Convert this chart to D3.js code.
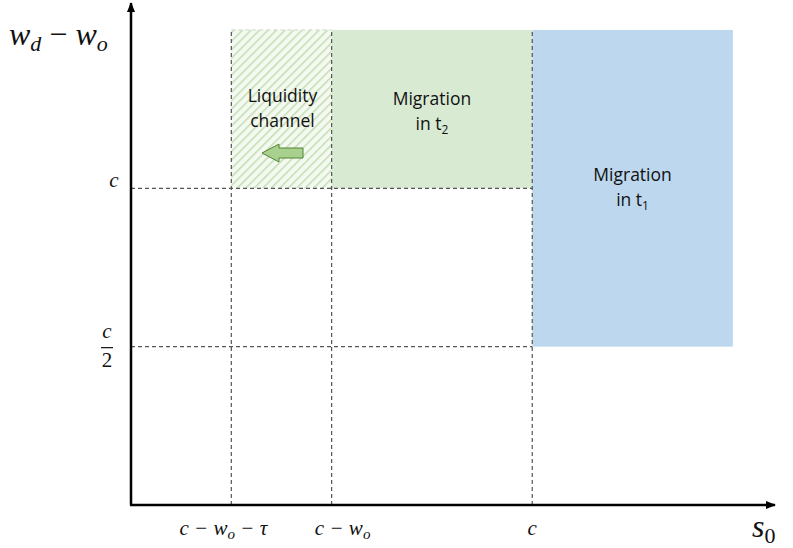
<!DOCTYPE html>
<html><head><meta charset="utf-8">
<script src="https://cdn.jsdelivr.net/npm/d3@7"></script>
<style>body{margin:0;background:#fff}svg{display:block}</style>
</head><body>
<script>
// Abstract positions (x in units of the first gap, y in units of c/2)
const xMarks = [
  {key: "cwt", value: 1, parts: [["c − ", ""], ["w", ""], ["o", "sub"], [" − τ", ""]]},
  {key: "cw", value: 2, parts: [["c − ", ""], ["w", ""], ["o", "sub"]]},
  {key: "c", value: 4, parts: [["c", ""]]}
];
const yMarks = [
  {key: "c", value: 2},
  {key: "c2", value: 1}
];
const xMax = 6.42, yMax = 3.17, regionRight = 6, regionTop = 3;
const regions = [
  {name: "liquidity", x0: 1, x1: 2, y0: 2, y1: 3, fill: "url(#hatch)", lines: ["Liquidity", "channel"]},
  {name: "t2", x0: 2, x1: 4, y0: 2, y1: 3, fill: "#d9ead3", lines: ["Migration", "in t|2"]},
  {name: "t1", x0: 4, x1: 6, y0: 1, y1: 3, fill: "#bdd7ee", lines: ["Migration", "in t|1"]}
];

const W = 793, H = 548;
const svg = d3.select("body").append("svg").attr("width", W).attr("height", H);
const x = d3.scaleLinear().domain([0, xMax]).range([131, 775]);
const y = d3.scaleLinear().domain([0, yMax]).range([505, 3]);

const defs = svg.append("defs");
const pat = defs.append("pattern").attr("id", "hatch").attr("patternUnits", "userSpaceOnUse")
  .attr("width", 6).attr("height", 6).attr("patternTransform", "rotate(45)");
pat.append("rect").attr("width", 6).attr("height", 6).attr("fill", "#f4f9f1");
pat.append("line").attr("x1", 0).attr("y1", 0).attr("x2", 0).attr("y2", 6)
  .attr("stroke", "#c3deb1").attr("stroke-width", 3);
defs.append("marker").attr("id", "ah").attr("viewBox", "0 0 10 10").attr("refX", 9).attr("refY", 5)
  .attr("markerWidth", 10).attr("markerHeight", 10).attr("markerUnits", "userSpaceOnUse").attr("orient", "auto")
  .append("path").attr("d", "M0,1 L10,5 L0,9 Z").attr("fill", "#000");

// regions
svg.selectAll("rect.region").data(regions).enter().append("rect").attr("class", "region")
  .attr("x", d => x(d.x0)).attr("y", d => y(d.y1))
  .attr("width", d => x(d.x1) - x(d.x0)).attr("height", d => y(d.y0) - y(d.y1))
  .attr("fill", d => d.fill);

// faint top border on hatched
svg.append("line").attr("x1", x(1)).attr("x2", x(2)).attr("y1", y(regionTop)).attr("y2", y(regionTop))
  .attr("stroke", "#cfd8ca").attr("stroke-dasharray", "4,3").attr("stroke-width", 1);

const dash = {stroke: "#555", "stroke-width": 1.2, "stroke-dasharray": "4,3"};
function dline(x1, y1, x2, y2) {
  const l = svg.append("line").attr("x1", x1).attr("y1", y1).attr("x2", x2).attr("y2", y2);
  Object.entries(dash).forEach(([k, v]) => l.attr(k, v));
}
// vertical dashed lines
xMarks.forEach(m => dline(x(m.value), y(0), x(m.value), y(regionTop)));
// horizontal dashed lines
yMarks.forEach(m => dline(x(0), y(m.value), x(4), y(m.value)));

// region texts
const tf = "'Open Sans', 'Liberation Sans', sans-serif";
regions.forEach(r => {
  const cx = (x(r.x0) + x(r.x1)) / 2 + (r.name === "liquidity" ? 1 : 0);
  const by = r.name === "liquidity" ? y(r.y1) + 72 : (r.name === "t2" ? y(r.y1) + 75 : y(2) - 7);
  r.lines.forEach((ln, i) => {
    const t = svg.append("text").attr("x", cx).attr("y", by + i * 25).attr("text-anchor", "middle")
      .attr("font-family", tf).attr("font-size", 17.5).attr("fill", "#111");
    const [a, sub] = ln.split("|");
    t.append("tspan").text(a);
    if (sub) t.append("tspan").attr("font-size", 12).attr("dy", 4).text(sub);
  });
});

// green block arrow pointing left
const ax0 = 262, ax1 = 303, ay = 153;
svg.append("path")
  .attr("d", `M${ax0},${ay} L${ax0 + 17},${ay - 9} L${ax0 + 17},${ay - 5} L${ax1},${ay - 5} L${ax1},${ay + 5} L${ax0 + 17},${ay + 5} L${ax0 + 17},${ay + 9} Z`)
  .attr("fill", "#a9d18e").attr("stroke", "#548235").attr("stroke-width", 1);

// axes
svg.append("line").attr("x1", x(0)).attr("y1", y(0)).attr("x2", x(0)).attr("y2", y(yMax))
  .attr("stroke", "#000").attr("stroke-width", 2.5).attr("marker-end", "url(#ah)");
svg.append("line").attr("x1", x(0) - 1).attr("y1", y(0)).attr("x2", x(xMax)).attr("y2", y(0))
  .attr("stroke", "#000").attr("stroke-width", 2.5).attr("marker-end", "url(#ah)");

const mf = "'Liberation Serif', 'DejaVu Serif', serif";
// x tick labels
const xOff = {cwt: -8, cw: 11, c: 0};
xMarks.forEach(m => {
  const t = svg.append("text").attr("x", x(m.value) + xOff[m.key]).attr("y", 535).attr("text-anchor", "middle")
    .attr("font-family", mf).attr("font-size", 21).attr("font-style", "italic").attr("fill", "#111");
  let prevSub = false;
  m.parts.forEach(([s, k]) => {
    const sp = t.append("tspan").text(s);
    if (k === "sub") { sp.attr("font-size", 15).attr("dy", 4); prevSub = true; }
    else { sp.attr("dy", prevSub ? -4 : 0); prevSub = false; }
  });
});

// y tick labels
svg.append("text").attr("x", 114).attr("y", y(2) - 1).attr("text-anchor", "middle")
  .attr("font-family", mf).attr("font-size", 21).attr("font-style", "italic").attr("fill", "#111").text("c");
svg.append("text").attr("x", 107).attr("y", y(1) - 9).attr("text-anchor", "middle")
  .attr("font-family", mf).attr("font-size", 21).attr("font-style", "italic").attr("fill", "#111").text("c");
svg.append("line").attr("x1", 101).attr("x2", 113).attr("y1", y(1) + 1).attr("y2", y(1) + 1).attr("stroke", "#111").attr("stroke-width", 1.2);
svg.append("text").attr("x", 107).attr("y", y(1) + 20).attr("text-anchor", "middle")
  .attr("font-family", mf).attr("font-size", 21).attr("fill", "#111").text("2");

// axis titles
const yt = svg.append("text").attr("x", 9).attr("y", 45).attr("font-family", mf).attr("font-size", 32)
  .attr("font-style", "italic").attr("fill", "#111");
yt.append("tspan").text("w");
yt.append("tspan").attr("font-size", 22).attr("dy", 6).text("d");
yt.append("tspan").attr("dy", -6).attr("font-style", "normal").text(" − ");
yt.append("tspan").text("w");
yt.append("tspan").attr("font-size", 22).attr("dy", 6).text("o");

const xt = svg.append("text").attr("x", 752).attr("y", 537).attr("font-family", mf).attr("font-size", 32)
  .attr("font-style", "italic").attr("fill", "#111");
xt.append("tspan").text("s");
xt.append("tspan").attr("font-size", 22).attr("dy", 6).attr("font-style", "normal").text("0");
</script>
</body></html>
